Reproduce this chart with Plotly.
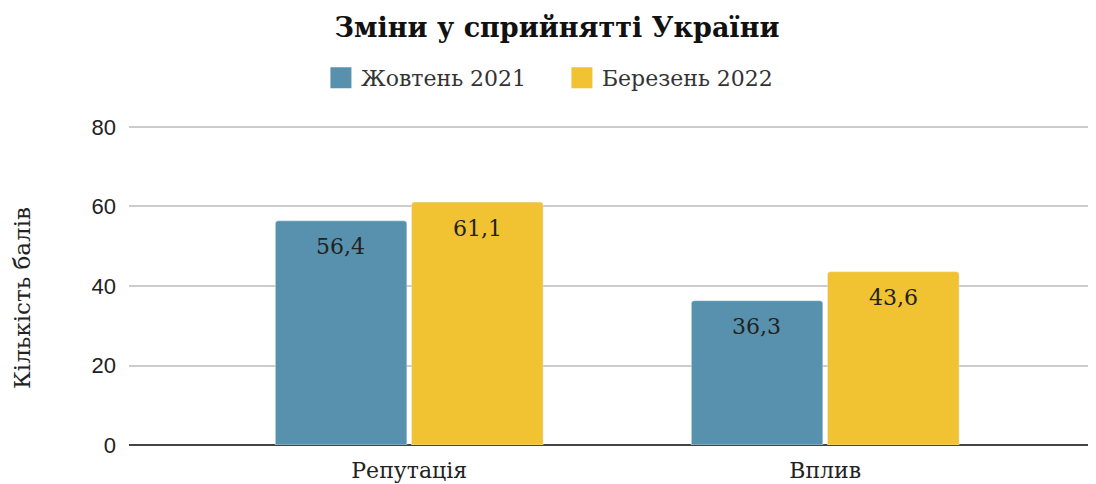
import plotly.graph_objects as go

categories = ["Репутація", "Вплив"]
series_names = ["Жовтень 2021", "Березень 2022"]
oct_2021 = [56.4, 36.3]
mar_2022 = [61.1, 43.6]
value_labels_oct = ["56,4", "36,3"]
value_labels_mar = ["61,1", "43,6"]
y_ticks = [0, 20, 40, 60, 80]
y_title = "Кількість балів"

colors = ["#5891ad", "#f1c232"]
serif = "DejaVu Serif"

fig = go.Figure()
series = [
    (series_names[0], oct_2021, value_labels_oct, colors[0], -68.3),
    (series_names[1], mar_2022, value_labels_mar, colors[1], 68.3),
]
for name, vals, labels, col, shift in series:
    fig.add_trace(go.Bar(
        x=categories, y=vals, name=name, marker_color=col,
        showlegend=False, hoverinfo="skip",
    ))
    fig.add_trace(go.Scatter(
        x=[None], y=[None], mode="markers", name=name,
        marker=dict(symbol="square", size=16, color=col,
                    line=dict(color=col, width=10)),
        showlegend=True,
    ))
    for cat, v, lab in zip(categories, vals, labels):
        fig.add_annotation(
            x=cat, y=v, xref="x", yref="y", text=lab, showarrow=False,
            xshift=shift, yshift=-26, yanchor="middle", xanchor="center",
            font=dict(family=serif, size=22, color="#222222"),
        )

# y-axis title (placed slightly below the plot centre, as in the reference)
fig.add_annotation(
    x=0, y=0.5, xref="paper", yref="paper", text=y_title, textangle=-90,
    showarrow=False, xanchor="center", yanchor="middle", xshift=-107, yshift=-13,
    font=dict(family=serif, size=23, color="#222222"),
)

fig.update_layout(
    width=1088, height=476,
    margin=dict(l=121, r=0, t=117, b=39, autoexpand=False),
    paper_bgcolor="white", plot_bgcolor="white",
    title=dict(text="<b>Зміни у сприйнятті України</b>", x=0.5046, xanchor="center",
               y=0.958, yanchor="middle", xref="container", yref="container",
               font=dict(family=serif, size=27, color="#111111")),
    legend=dict(orientation="h", x=0.4477, xanchor="center", y=1.147, yanchor="middle",
                font=dict(family=serif, size=22, color="#333333"),
                itemsizing="trace", traceorder="normal",
                entrywidth=196, entrywidthmode="pixels"),
    barmode="group", bargap=0.345, bargroupgap=0.0345,
    barcornerradius=3,
)
fig.update_xaxes(type="category", range=[-0.6736, 1.651], showgrid=False,
                 tickfont=dict(family=serif, size=22, color="#222222"),
                 ticks="", showline=False, fixedrange=True, ticklabelstandoff=10)
fig.update_yaxes(range=[0, 80.5], tickvals=y_ticks, showgrid=True, gridcolor="#cccccc",
                 gridwidth=1.5, zeroline=True, zerolinecolor="#444444", zerolinewidth=2,
                 tickfont=dict(family="Liberation Sans", size=22, color="#222222"),
                 ticks="", ticklabelstandoff=12)
fig.write_html("out.html")
